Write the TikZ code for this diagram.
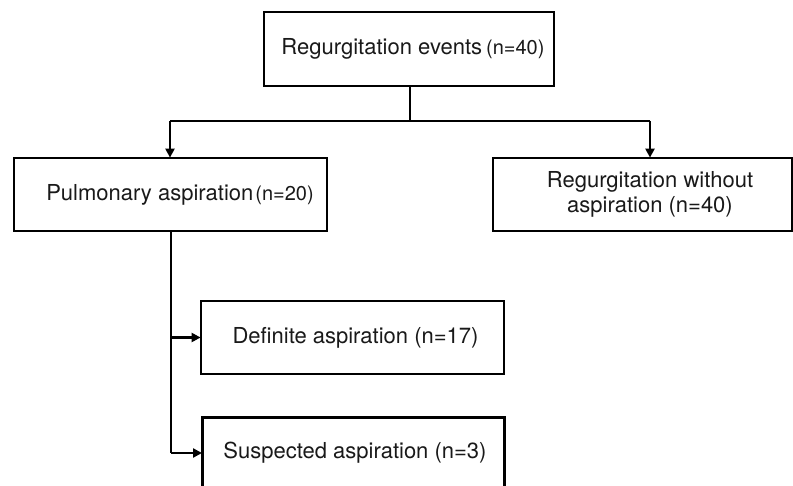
\documentclass[tikz,border=0pt]{standalone}
\usepackage{fontspec}
\setmainfont{TeX Gyre Heros}
\usetikzlibrary{arrows.meta}
\tikzset{
  box/.style={draw=black, line width=2.8pt, inner sep=0pt, align=center,
    font=\fontsize{22}{25.5}\selectfont, text=black!90},
  conn/.style={draw=black, line width=2.8pt},
  arr/.style={conn, -{Triangle[length=9pt,width=9pt]}, shorten >=-1pt}
}
\newcommand{\smallpar}[1]{{\fontsize{20}{22}\selectfont #1}}
\begin{document}
\begin{tikzpicture}[x=1pt,y=-1pt]
\useasboundingbox (0,0) rectangle (793,486);
\begin{scope}
\clip (0,0) rectangle (793,486);
\node[box, minimum width=290, minimum height=74] (top) at (409,49)
  {\hspace*{8pt}Regurgitation events\hspace{4pt}\smallpar{(n=40)}};
\node[box, minimum width=313, minimum height=73] (pulm) at (170.5,194.5)
  {\hspace*{19pt}Pulmonary aspiration\hspace{2pt}\smallpar{(n=20)}};
\node[box, minimum width=299, minimum height=73] (noasp) at (642.5,194.5)
  {\hspace*{15pt}Regurgitation without\\\hspace*{15pt}aspiration (n=40)};
\node[box, minimum width=303, minimum height=73] (def) at (352.5,337.5)
  {\hspace*{6pt}Definite aspiration (n=17)};
\node[box, minimum width=302, minimum height=90, anchor=north west] (sus) at (201,416)
  {};
\node[font=\fontsize{22}{25.5}\selectfont, text=black!90] (sustext) at (355,453)
  {Suspected aspiration (n=3)};
\coordinate (j) at (410,121);
\coordinate (jl) at (170,121);
\coordinate (jr) at (650,121);
\coordinate (v1) at (171,337.5);
\coordinate (v2) at (171,453);
\draw[conn] (top.south -| j) -- (j);
\draw[conn] (jl) -- (jr);
\draw[arr] (jl) -- (jl |- pulm.north);
\draw[arr] (jr) -- (jr |- noasp.north);
\draw[conn] (pulm.south -| v1) -- (v2);
\draw[arr] (v1) -- (def.west);
\draw[arr] (v2) -- (v2 -| sus.west);
\end{scope}
\end{tikzpicture}
\end{document}
